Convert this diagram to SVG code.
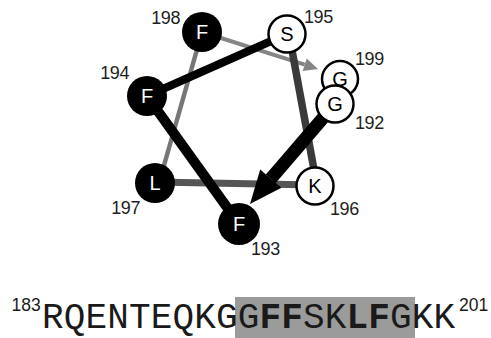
<svg xmlns="http://www.w3.org/2000/svg" width="491" height="338" viewBox="0 0 491 338">
<style>
.lab{font-family:"Liberation Sans",Arial,sans-serif;font-size:18px;fill:#1e1e1e;letter-spacing:-0.4px}
.res{font-family:"Liberation Sans",Arial,sans-serif;font-size:20px;text-anchor:middle}
.hyd{fill:#000}
.pol{fill:#fff;stroke:#000;stroke-width:2.5}
.wt{fill:#fff}
.bt{fill:#000}
.seq{font-family:"Liberation Mono","Courier New",monospace;font-size:36px;fill:#1a1a1a}
.sup{font-family:"Liberation Sans",Arial,sans-serif;font-size:17.5px;fill:#1a1a1a}
</style>
<rect x="0" y="0" width="491" height="338" fill="#fff"/>
<g id="connectors" fill="none" stroke-linecap="butt">
  <line x1="202" y1="32" x2="304.7" y2="64.7" stroke="#858585" stroke-width="4"/>
  <polygon points="318,69 302.7,70.9 306.7,58.5" fill="#858585" stroke="none"/>
  <line x1="202" y1="32" x2="159" y2="183" stroke="#777" stroke-width="4.5"/>
  <line x1="155" y1="182" x2="315" y2="185" stroke="#555" stroke-width="7"/>
  <line x1="317" y1="186" x2="289" y2="34" stroke="#3a3a3a" stroke-width="7.5"/>
  <line x1="287" y1="34" x2="147" y2="96" stroke="#000" stroke-width="8"/>
  <line x1="147" y1="96" x2="239" y2="224" stroke="#000" stroke-width="10"/>
  <line x1="335" y1="104" x2="270.8" y2="178.7" stroke="#000" stroke-width="13"/>
  <polygon points="250,204 260.2,169.6 281.4,187.8" fill="#000" stroke="none"/>
</g>
<g id="n198">
  <circle class="hyd" cx="202" cy="32" r="20"/>
  <text class="res wt" x="202" y="39">F</text>
  <text class="lab" x="180" y="24" text-anchor="end">198</text>
</g>
<g id="n195">
  <circle class="pol" cx="287" cy="34" r="18.5"/>
  <text class="res bt" x="287" y="41">S</text>
  <text class="lab" x="304" y="23">195</text>
</g>
<g id="n199">
  <circle class="pol" cx="340" cy="79" r="18"/>
  <text class="res bt" x="340" y="86">G</text>
  <text class="lab" x="355" y="65">199</text>
</g>
<g id="n192">
  <circle class="pol" cx="335" cy="104" r="18.5"/>
  <text class="res bt" x="335" y="111">G</text>
  <text class="lab" x="355" y="129">192</text>
</g>
<g id="n194">
  <circle class="hyd" cx="147" cy="96" r="20"/>
  <text class="res wt" x="147" y="103">F</text>
  <text class="lab" x="129" y="79" text-anchor="end">194</text>
</g>
<g id="n197">
  <circle class="hyd" cx="155" cy="183" r="20"/>
  <text class="res wt" x="155" y="190">L</text>
  <text class="lab" x="140" y="214" text-anchor="end">197</text>
</g>
<g id="n196">
  <circle class="pol" cx="315" cy="186" r="18.5"/>
  <text class="res bt" x="315" y="193">K</text>
  <text class="lab" x="330" y="215">196</text>
</g>
<g id="n193">
  <circle class="hyd" cx="239" cy="224" r="21"/>
  <text class="res wt" x="239" y="231">F</text>
  <text class="lab" x="251" y="255">193</text>
</g>
<g id="sequence">
  <rect x="235" y="297" width="180" height="41" fill="#9b9b9b"/>
  <text class="sup" x="11.5" y="311">183</text>
  <text class="seq" x="42" y="328" textLength="413" lengthAdjust="spacing">RQENTEQKGG<tspan font-weight="bold">FF</tspan>SK<tspan font-weight="bold">LF</tspan>GKK</text>
  <text class="sup" x="459" y="311">201</text>
</g>
</svg>
